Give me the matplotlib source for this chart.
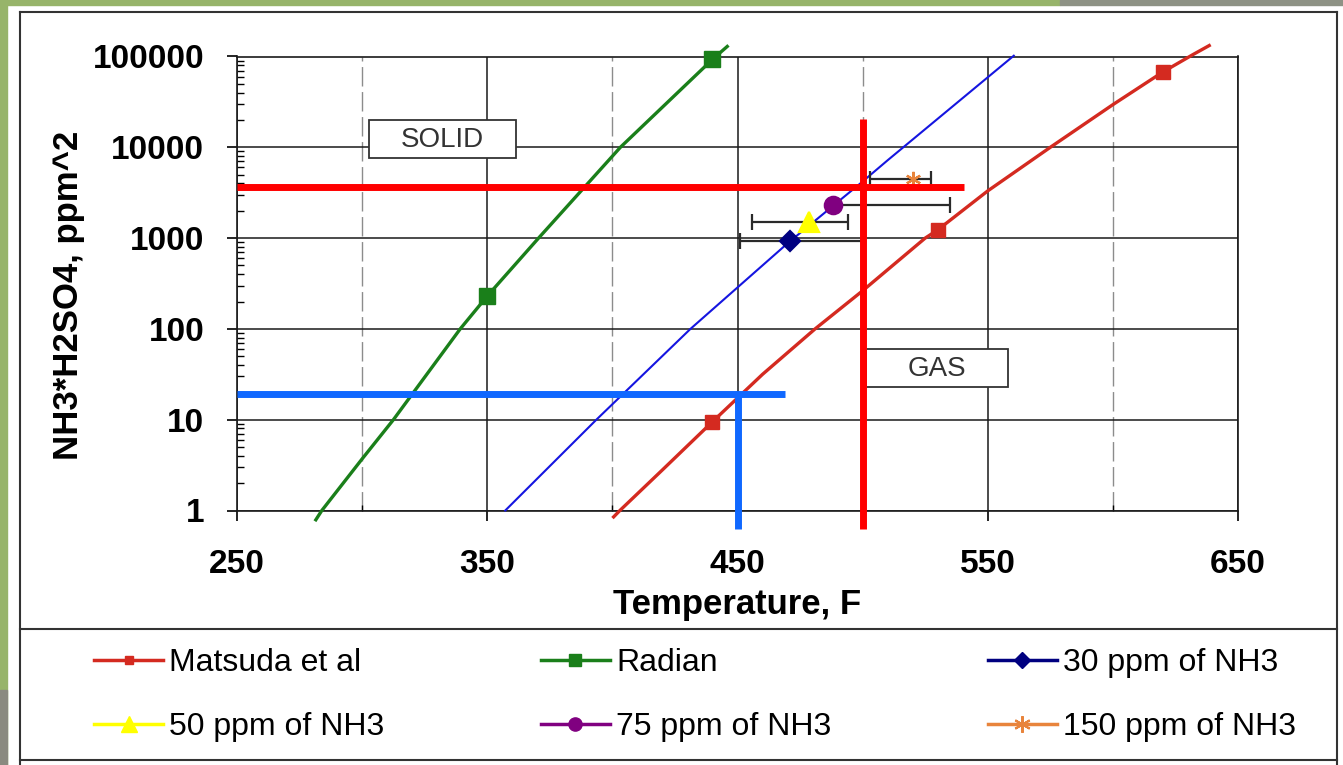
import matplotlib
matplotlib.use('Agg')
import matplotlib.pyplot as plt
from matplotlib import ticker
from matplotlib.lines import Line2D
from matplotlib.patches import Rectangle

# curve data: temperature (F) vs NH3*H2SO4 (ppm^2)
matsuda_t = [400.5, 403, 420, 440, 460, 481, 500, 525, 530, 550, 575, 600, 620, 632, 638.5]
matsuda_v = [0.85, 1.0, 2.8, 9.5, 31.6, 100, 263, 1000, 1230, 3310, 10000, 29500, 67600, 105000, 132000]
matsuda_marks = [3, 8, 12]

radian_t = [281.5, 283.9, 300, 312.5, 339.2, 350, 370.5, 403.2, 440, 445.9]
radian_v = [0.79, 1.0, 3.7, 10, 100, 230, 1000, 10000, 93000, 129000]
radian_marks = [5, 8]

theory_t = [357.2, 393.6, 431.2, 470.3, 500, 510, 560.4]
theory_v = [1.0, 10, 100, 890, 4200, 7200, 102000]

# measured points with horizontal error bars
pt_labels = ['30 ppm of NH3', '50 ppm of NH3', '75 ppm of NH3', '150 ppm of NH3']
pt_t = [470.8, 478.4, 488.2, 520.0]
pt_v = [940, 1500, 2290, 4500]
pt_lo = [450.8, 455.6, 488.2, 503.0]
pt_hi = [500.0, 494.0, 534.8, 527.4]

# the thick limit lines
red_h_v, red_h_end = 3700, 540.4
red_v_t, red_v_range = 500, (0.63, 20400)
blue_h_v, blue_h_end = 19.3, 469
blue_v_t = 450

x_ticks = [250, 350, 450, 550, 650]
x_minor = [300, 400, 500, 600]
y_ticks = [1, 10, 100, 1000, 10000, 100000]
y_tick_labels = ['1', '10', '100', '1000', '10000', '100000']

W, H = 1343, 765


def fx(px):
    return px / W


def fy(py):
    return 1 - py / H


plt.rcParams['font.family'] = ['Liberation Sans', 'DejaVu Sans']

fig = plt.figure(figsize=(W / 100, H / 100), dpi=100)
fig.patch.set_facecolor('white')

# slide background bits around the chart
fig.add_artist(Rectangle((0, fy(765)), fx(7), 1, transform=fig.transFigure,
                         color='#97B46A', zorder=0))
fig.add_artist(Rectangle((0, fy(5)), fx(1060), fy(0) - fy(5), transform=fig.transFigure,
                         color='#97B46A', zorder=0))
fig.add_artist(Rectangle((fx(1060), fy(5)), fx(283), fy(0) - fy(5), transform=fig.transFigure,
                         color='#8E9285', zorder=0))
fig.add_artist(Rectangle((0, fy(765)), fx(7), fy(690) - fy(765), transform=fig.transFigure,
                         color='#8A8A80', zorder=0))

# chart frame and legend separator
frame_kw = dict(transform=fig.transFigure, color='#333333', lw=1.5)
fig.add_artist(Line2D([fx(20), fx(20)], [fy(12), fy(765)], **frame_kw))
fig.add_artist(Line2D([fx(1337), fx(1337)], [fy(12), fy(765)], **frame_kw))
fig.add_artist(Line2D([fx(20), fx(1337)], [fy(12), fy(12)], **frame_kw))
fig.add_artist(Line2D([fx(20), fx(1337)], [fy(629), fy(629)], **frame_kw))
fig.add_artist(Line2D([fx(20), fx(1337)], [fy(760), fy(760)], **frame_kw))

ax = fig.add_axes([fx(237), fy(510.5), fx(1238) - fx(237), fy(56.5) - fy(510.5)])
ax.set_yscale('log')
ax.set_xlim(250, 650)
ax.set_ylim(1, 100000)

# grid: solid at labelled values, dashed between
ax.set_xticks(x_ticks, labels=[str(t) for t in x_ticks], fontweight='bold', fontsize=24)
ax.set_xticks(x_minor, minor=True)
ax.set_yticks(y_ticks, labels=y_tick_labels, fontweight='bold', fontsize=24)
ax.yaxis.set_minor_locator(ticker.LogLocator(base=10, subs=range(2, 10), numticks=12))
ax.yaxis.set_minor_formatter(ticker.NullFormatter())
ax.grid(which='major', color='#1a1a1a', lw=1.1, zorder=1)
ax.grid(which='minor', axis='x', color='#8c8c8c', lw=1.0, dashes=(14, 4), zorder=1)
ax.set_axisbelow(True)

ax.tick_params(axis='x', which='major', direction='out', length=7.5, width=1.2, pad=20)
ax.tick_params(axis='x', which='minor', direction='in', length=4, width=1.0)
ax.tick_params(axis='y', which='major', direction='out', length=7.5, width=1.2, pad=16)
ax.tick_params(axis='y', which='minor', direction='in', length=5, width=1.0)
for sp in ax.spines.values():
    sp.set_color('#1a1a1a')
    sp.set_linewidth(1.2)

ax.set_xlabel('Temperature, F', fontsize=25, fontweight='bold', labelpad=6)
ax.set_ylabel('NH3*H2SO4, ppm^2', fontsize=25, fontweight='bold')
ax.yaxis.set_label_coords((85 - 237) / 1001, (510.5 - 295) / 454)

# curves
ax.plot(matsuda_t, matsuda_v, color='#D42A20', lw=2.4, marker='s', ms=9.5,
        markevery=matsuda_marks, clip_on=False, zorder=4)
ax.plot(radian_t, radian_v, color='#1A7F1A', lw=2.4, marker='s', ms=12,
        markevery=radian_marks, clip_on=False, zorder=4)
ax.plot(theory_t, theory_v, color='#1515E0', lw=1.5, clip_on=False, zorder=4)

# measured points
pt_colors = ['#000080', '#FFFF00', '#800080', '#E8843C']
pt_markers = ['D', '^', 'o', (6, 2, 0)]
pt_sizes = [10, 14, 12.5, 11]
for i in range(len(pt_t)):
    xerr = [[pt_t[i] - pt_lo[i]], [pt_hi[i] - pt_t[i]]]
    ax.errorbar([pt_t[i]], [pt_v[i]], xerr=xerr, fmt='none', ecolor='#2a2a2a',
                elinewidth=1.6, capsize=6, capthick=1.6, zorder=5)
    ax.plot([pt_t[i]], [pt_v[i]], linestyle='none', marker=pt_markers[i],
            ms=pt_sizes[i], color=pt_colors[i], mec=pt_colors[i], mew=1.6, zorder=5)

# thick limit lines
ax.plot([250, red_h_end], [red_h_v, red_h_v], color='#FF0000', lw=5, clip_on=False,
        solid_capstyle='butt', zorder=6)
ax.plot([red_v_t, red_v_t], list(red_v_range), color='#FF0000', lw=5, clip_on=False,
        solid_capstyle='butt', zorder=6)
ax.plot([250, blue_h_end], [blue_h_v, blue_h_v], color='#1068FF', lw=5, clip_on=False,
        solid_capstyle='butt', zorder=6)
ax.plot([blue_v_t, blue_v_t], [red_v_range[0], blue_h_v], color='#1068FF', lw=5,
        clip_on=False, solid_capstyle='butt', zorder=6)

# region boxes
ax.add_patch(Rectangle((302.7, 7700), 58.8, 19800 - 7700, facecolor='white',
                       edgecolor='#333333', lw=1.3, zorder=3))
ax.text(331.9, 12100, 'SOLID', ha='center', va='center', fontsize=20, color='#333333', zorder=3.5)
ax.add_patch(Rectangle((501.3, 23.2), 56.8, 60 - 23.2, facecolor='white',
                       edgecolor='#333333', lw=1.3, zorder=3))
ax.text(529.7, 36.5, 'GAS', ha='center', va='center', fontsize=20, color='#333333', zorder=3.5)

# legend, column-first order so rows read like the original
handles = [
    Line2D([], [], color='#D42A20', lw=2.5, marker='s', ms=6),
    Line2D([], [], color='#FFFF00', lw=2.5, marker='^', ms=12),
    Line2D([], [], color='#1A7F1A', lw=2.5, marker='s', ms=8.5),
    Line2D([], [], color='#800080', lw=2.5, marker='o', ms=9.5),
    Line2D([], [], color='#000080', lw=2.5, marker='D', ms=8),
    Line2D([], [], color='#E8843C', lw=2.5, marker=(6, 2, 0), ms=12, mew=1.5),
]
labels = ['Matsuda et al', pt_labels[1], 'Radian', pt_labels[2], pt_labels[0], pt_labels[3]]
fig.legend(handles, labels, ncol=3, loc='upper left', bbox_to_anchor=(fx(94), fy(648)),
           frameon=False, fontsize=23, handlelength=2.16, handletextpad=0.19,
           columnspacing=4.9, borderpad=0, borderaxespad=0, labelspacing=1.08)

fig.savefig('out.png', dpi=100)
